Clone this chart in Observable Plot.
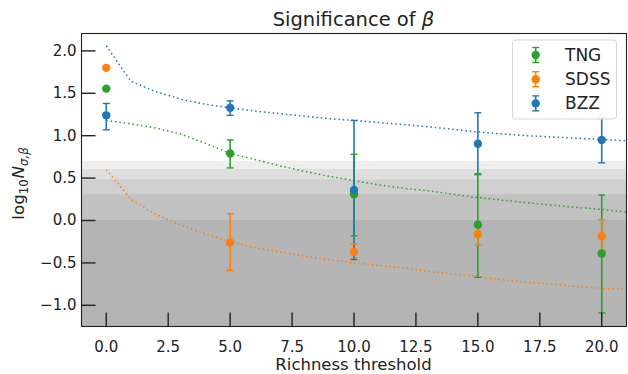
<!DOCTYPE html>
<html><head><meta charset="utf-8">
<script src="https://cdn.jsdelivr.net/npm/d3@7"></script>
<script src="https://cdn.jsdelivr.net/npm/@observablehq/plot@0.6"></script>
<style>
body{margin:0;background:#fff}
#chart{position:relative;width:628px;height:374px}
</style>
</head><body><div id="chart"></div>
<script>
// ---- data ----
const seriesNames = ["TNG", "SDSS", "BZZ"];
const seriesColors = ["#2ca02c", "#ff7f0e", "#1f77b4"];
const thresholds = [0, 5, 10, 15, 20];

const tngVal = [1.555, 0.79, 0.31, -0.05, -0.39];
const tngLo  = [null, 0.62, -0.18, -0.67, -1.09];
const tngHi  = [null, 0.95, 0.78, 0.54, 0.30];

const sdssVal = [1.80, -0.26, -0.37, -0.16, -0.185];
const sdssLo  = [null, -0.59, -0.46, -0.29, -0.38];
const sdssHi  = [null, 0.08, -0.28, -0.03, 0.01];

const bzzVal = [1.24, 1.33, 0.36, 0.905, 0.95];
const bzzLo  = [1.07, 1.24, -0.46, 0.55, 0.68];
const bzzHi  = [1.38, 1.41, 1.18, 1.27, 1.21];

const curveX = [0,1,2,3,4,5,6,7,8,9,10,11,12,13,14,15,16,17,18,19,20,21];
const tngCurve  = [1.18,1.14,1.09,1.02,0.91,0.79,0.72,0.645,0.58,0.52,0.47,0.42,0.38,0.35,0.31,0.27,0.24,0.21,0.18,0.155,0.13,0.10];
const sdssCurve = [0.60,0.25,0.07,-0.05,-0.16,-0.25,-0.32,-0.37,-0.42,-0.46,-0.50,-0.53,-0.56,-0.60,-0.63,-0.66,-0.70,-0.73,-0.75,-0.78,-0.80,-0.81];
const bzzCurve  = [2.06,1.64,1.52,1.43,1.37,1.33,1.29,1.26,1.23,1.20,1.18,1.155,1.13,1.105,1.075,1.045,1.02,1.00,0.985,0.97,0.955,0.94];

const sigmaLevels = [1, 2, 3, 4, 5];
const xTicks = [0, 2.5, 5, 7.5, 10, 12.5, 15, 17.5, 20];
const yTicks = [-1, -0.5, 0, 0.5, 1, 1.5, 2];
const xDomain = [-1, 21];
const yDomain = [-1.25, 2.205];

// ---- build tables ----
const vals = {TNG: [tngVal, tngLo, tngHi, tngCurve], SDSS: [sdssVal, sdssLo, sdssHi, sdssCurve], BZZ: [bzzVal, bzzLo, bzzHi, bzzCurve]};
const points = seriesNames.flatMap(s => thresholds.map((t, i) => ({series: s, x: t, y: vals[s][0][i], lo: vals[s][1][i], hi: vals[s][2][i]})));
const errs = points.filter(d => d.lo != null);
const curves = seriesNames.flatMap(s => curveX.map((x, i) => ({series: s, x, y: vals[s][3][i]})));
const bands = sigmaLevels.map(k => ({top: Math.log10(k)}));

const capSymbol = {draw(ctx) { ctx.moveTo(-3.5, 0); ctx.lineTo(3.5, 0); }};
const yTickSym = {draw(ctx) { ctx.moveTo(0, 0); ctx.lineTo(14, 0); }};
const xTickSym = {draw(ctx) { ctx.moveTo(0, 0); ctx.lineTo(0, -14); }};

const W = 628, H = 374, mL = 81, mR = 2, mT = 33, mB = 48;

const plot = Plot.plot({
  width: W, height: H,
  marginLeft: mL, marginRight: mR, marginTop: mT, marginBottom: mB,
  style: {fontFamily: "DejaVu Sans", fontSize: "15px", color: "#222", background: "#fff"},
  x: {domain: xDomain, ticks: xTicks, tickSize: 0, tickPadding: 15, tickFormat: ".1f", label: null},
  y: {domain: yDomain, ticks: yTicks, tickSize: 0, tickPadding: 5, tickFormat: ".1f", label: null},
  color: {domain: seriesNames, range: seriesColors},
  marks: [
    Plot.rect(bands, {x1: xDomain[0], x2: xDomain[1], y1: yDomain[0], y2: "top", fill: "#000", fillOpacity: 0.067}),
    Plot.line(curves, {x: "x", y: "y", z: "series", stroke: "series", strokeWidth: 1.5, strokeDasharray: "1.5,2.9", strokeLinecap: "butt"}),
    Plot.ruleX(errs, {x: "x", y1: "lo", y2: "hi", stroke: "series", strokeWidth: 1.6}),
    Plot.dot(errs, {x: "x", y: "lo", symbol: capSymbol, stroke: "series", fill: "none", strokeWidth: 1.4}),
    Plot.dot(errs, {x: "x", y: "hi", symbol: capSymbol, stroke: "series", fill: "none", strokeWidth: 1.4}),
    Plot.dot(points, {x: "x", y: "y", fill: "series", r: 4.2, stroke: "none"}),
    Plot.frame({stroke: "#222", strokeWidth: 1.1}),
    Plot.dot(yTicks, {y: d => d, frameAnchor: "left", symbol: yTickSym, stroke: "#222", fill: "none", strokeWidth: 1.4}),
    Plot.dot(xTicks, {x: d => d, frameAnchor: "bottom", symbol: xTickSym, stroke: "#222", fill: "none", strokeWidth: 1.4})
  ]
});
document.getElementById("chart").appendChild(plot);

const svg = d3.select(plot);
svg.selectAll("text").attr("fill", "#222");
const cx = (mL + W - mR) / 2;
const cy = (mT + H - mB) / 2;

// title
const t = svg.append("text").attr("x", cx).attr("y", 26).attr("text-anchor", "middle")
  .attr("font-size", "19.5px").attr("fill", "#222");
t.append("tspan").text("Significance of ");
t.append("tspan").attr("font-style", "italic").text("β");

// x label
svg.append("text").attr("x", cx).attr("y", 370).attr("text-anchor", "middle")
  .attr("font-size", "16.5px").attr("fill", "#222").text("Richness threshold");

// y label
const yl = svg.append("text").attr("transform", `translate(24,${cy + 4}) rotate(-90)`)
  .attr("text-anchor", "middle").attr("font-size", "16.7px").attr("fill", "#222");
yl.append("tspan").text("log");
yl.append("tspan").attr("font-size", "11.7px").attr("dy", "4").text("10");
yl.append("tspan").attr("font-style", "italic").attr("dy", "-4").attr("dx", "1").text("N");
yl.append("tspan").attr("font-size", "11.7px").attr("font-style", "italic").attr("dy", "4").text("σ,β");

// legend
const lg = svg.append("g");
lg.append("rect").attr("x", 512.5).attr("y", 40).attr("width", 104).attr("height", 79).attr("rx", 3)
  .attr("fill", "#fff").attr("fill-opacity", 0.85).attr("stroke", "#d6d6d6");
seriesNames.forEach((s, i) => {
  const y = 55 + i * 24.2;
  const c = seriesColors[i];
  const g = lg.append("g");
  g.append("line").attr("x1", 535.7).attr("x2", 535.7).attr("y1", y - 7.5).attr("y2", y + 7.5).attr("stroke", c).attr("stroke-width", 1.6);
  g.append("line").attr("x1", 532.2).attr("x2", 539.2).attr("y1", y - 7.5).attr("y2", y - 7.5).attr("stroke", c).attr("stroke-width", 1.4);
  g.append("line").attr("x1", 532.2).attr("x2", 539.2).attr("y1", y + 7.5).attr("y2", y + 7.5).attr("stroke", c).attr("stroke-width", 1.4);
  g.append("circle").attr("cx", 535.7).attr("cy", y).attr("r", 4.2).attr("fill", c);
  g.append("text").attr("x", 565).attr("y", y + 6).attr("text-anchor", "start")
    .attr("font-size", "17px").attr("fill", "#222").text(s);
});
</script>
</body></html>
